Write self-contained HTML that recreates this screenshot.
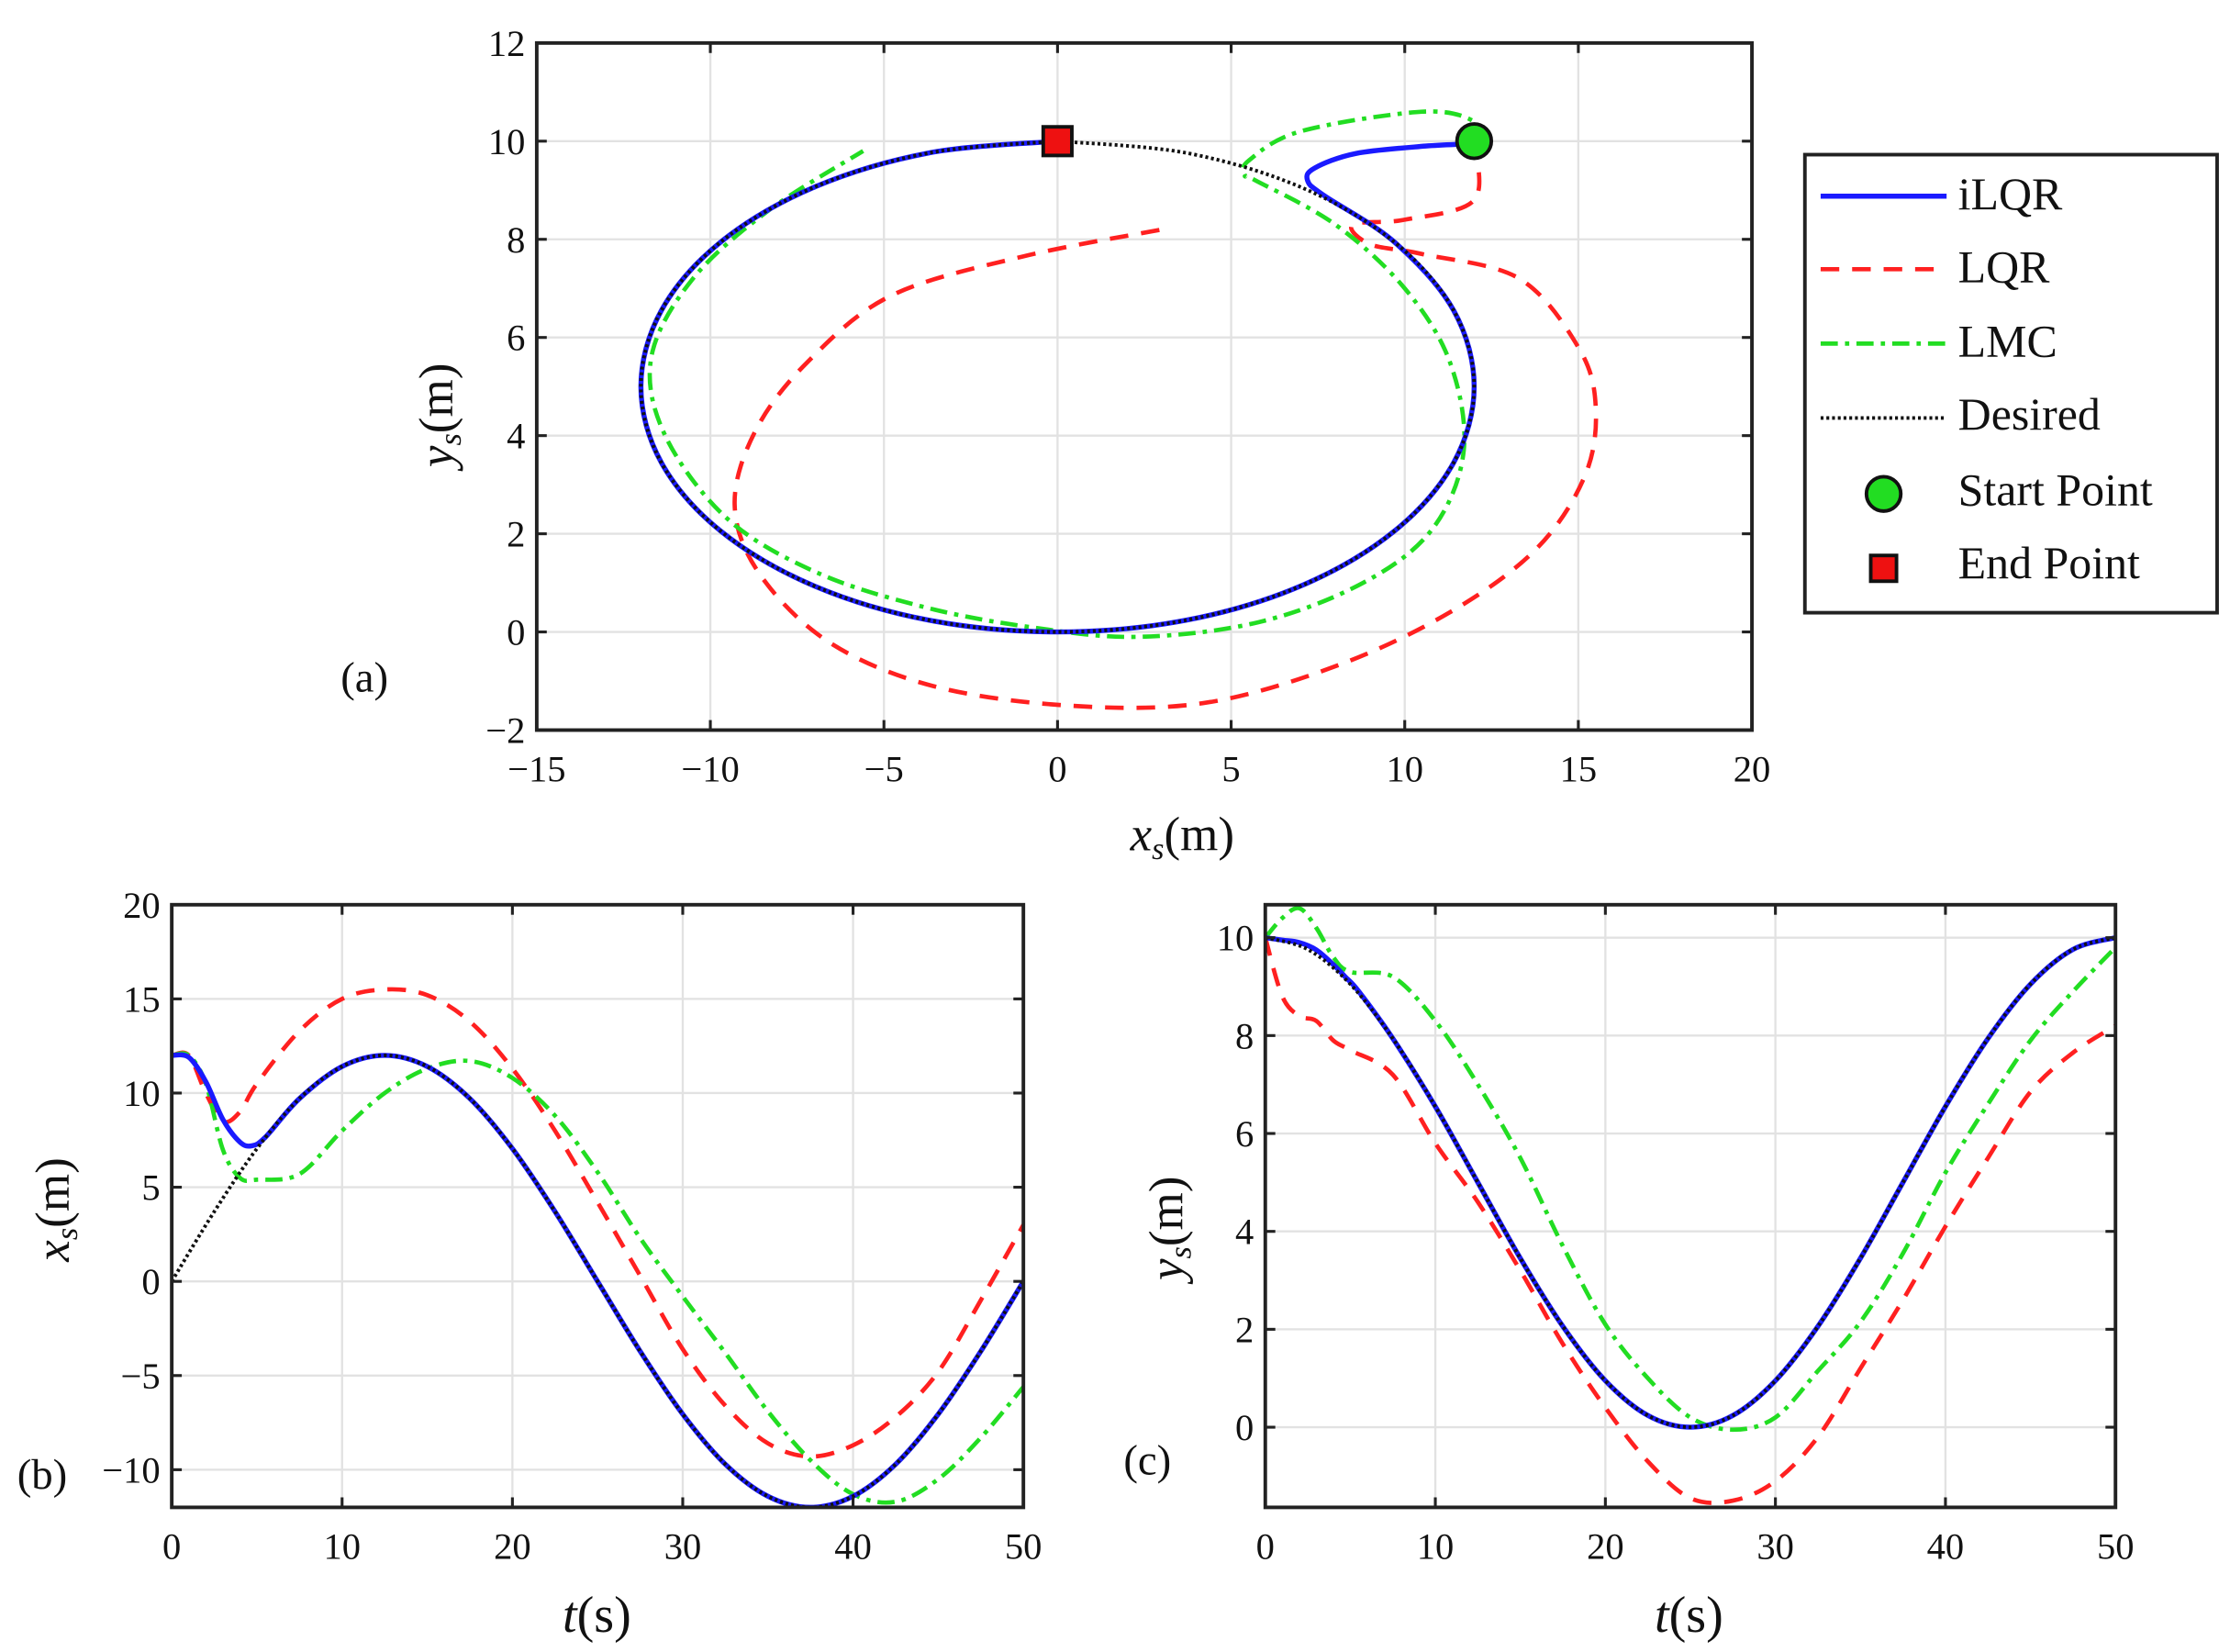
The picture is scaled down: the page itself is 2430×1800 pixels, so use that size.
<!DOCTYPE html>
<html><head><meta charset="utf-8"><style>
html,body{margin:0;padding:0;background:#fff}
svg{display:block}
text{font-family:"Liberation Serif",serif;fill:#111}
</style></head><body>
<svg id="fig" width="2430" height="1800" viewBox="0 0 1558 1154" xmlns="http://www.w3.org/2000/svg"></svg>
<script>
// ---- data ----
const tDes=[0,2.5,5,7.5,10,12.5,15,17.5,20,22.5,25,27.5,30,32.5,35,37.5,40,42.5,45,47.5,50];
const xDes=[0,3.71,7.05,9.71,11.41,12,11.41,9.71,7.05,3.71,0,-3.71,-7.05,-9.71,-11.41,-12,-11.41,-9.71,-7.05,-3.71,0];
const yDes=[10,9.76,9.05,7.94,6.55,5,3.45,2.06,0.95,0.24,0,0.24,0.95,2.06,3.45,5,6.55,7.94,9.05,9.76,10];
const tIlqr=[0,1,2,3,4,4.7,5.5,7.5,10,12.5,15,17.5,20,22.5,25,27.5,30,32.5,35,37.5,40,42.5,45,47.5,50];
const xIlqr=[12,11.9,10.6,8.6,7.4,7.2,7.66,9.71,11.41,12,11.41,9.71,7.05,3.71,0,-3.71,-7.05,-9.71,-11.41,-12,-11.41,-9.71,-7.05,-3.71,0];
const yIlqr=[10,9.95,9.9,9.75,9.45,9.2,8.9,7.94,6.55,5,3.45,2.06,0.95,0.24,0,0.24,0.95,2.06,3.45,5,6.55,7.94,9.05,9.76,10];
const tLqr=[0,1,2,3,4,5,7.5,10,12.5,15,17.5,20,22.5,25,27.5,30,32.5,35,37.5,40,42.5,45,47.5,50];
const xLqr=[12,12,10,8.5,9,10.5,13.3,15,15.5,15.2,13.8,11.3,8.0,4.2,0.3,-3.6,-6.6,-8.6,-9.3,-8.7,-7.2,-4.8,-1.0,3];
const yLqr=[10,8.8,8.4,8.3,7.9,7.7,7.2,5.8,4.6,3.2,1.7,0.4,-0.7,-1.45,-1.5,-1.1,-0.2,1.2,2.6,4.1,5.5,6.85,7.65,8.2];
const tLmc=[0,1,2,3,4,5,7.5,10,12.5,15,17.5,20,22.5,25,27.5,30,32.5,35,37.5,40,42.5,45,47.5,50];
const xLmc=[12,12,10.5,7,5.5,5.4,5.7,8,10,11.3,11.7,10.8,8.8,5.8,2.3,-0.8,-3.8,-6.9,-9.5,-11.3,-11.7,-10.5,-8.3,-5.6];
// LMC y as traced on the trajectory plot (a)
const yLmc=[10,10.4,10.6,10.2,9.6,9.3,9.2,8.3,7,5.5,3.7,2.1,1.0,0.2,-0.1,0.1,0.5,1.2,2.3,4.0,5.6,7.2,8.6,9.8];
// LMC y(t) (c)
const yLmcC=[10,10.4,10.6,10.2,9.6,9.3,9.2,8.3,7,5.5,3.7,2.1,1.0,0.2,-0.05,0.2,1.15,2.15,3.55,5.2,6.6,7.9,8.9,9.8];
const ticksAX=[-15,-10,-5,0,5,10,15,20];
const ticksAY=[-2,0,2,4,6,8,10,12];
const ticksT=[0,10,20,30,40,50];
const ticksBY=[-10,-5,0,5,10,15,20];
const ticksCY=[0,2,4,6,8,10];

const NS='http://www.w3.org/2000/svg';
const svg=document.getElementById('fig');
function el(tag,attrs,parent){const e=document.createElementNS(NS,tag);for(const k in attrs)e.setAttribute(k,attrs[k]);(parent||svg).appendChild(e);return e;}
function lin(d0,d1,p0,p1){return v=>p0+(v-d0)*(p1-p0)/(d1-d0);}
function fmt(v){return v<0?'\u2212'+(-v):''+v;}
function smoothPath(pts){
  let d='M'+pts[0][0].toFixed(2)+','+pts[0][1].toFixed(2);
  for(let i=0;i<pts.length-1;i++){
    const p0=pts[Math.max(0,i-1)],p1=pts[i],p2=pts[i+1],p3=pts[Math.min(pts.length-1,i+2)];
    const c1=[p1[0]+(p2[0]-p0[0])/6,p1[1]+(p2[1]-p0[1])/6];
    const c2=[p2[0]-(p3[0]-p1[0])/6,p2[1]-(p3[1]-p1[1])/6];
    d+='C'+c1[0].toFixed(2)+','+c1[1].toFixed(2)+' '+c2[0].toFixed(2)+','+c2[1].toFixed(2)+' '+p2[0].toFixed(2)+','+p2[1].toFixed(2);
  }
  return d;
}
const styles={
  lqr:{stroke:'#ff2020','stroke-width':3,'stroke-dasharray':'13,9'},
  lmc:{stroke:'#22dd22','stroke-width':3,'stroke-dasharray':'12,5,3,5'},
  ilqr:{stroke:'#1a1aff','stroke-width':3.5},
  des:{stroke:'#111','stroke-width':2.5,'stroke-dasharray':'2,2'}
};
function axesBox(g,x0,y0,x1,y1,xs,ys,xt,yt){
  xt.forEach(v=>{const gl=el('line',{x1:xs(v),x2:xs(v),y1:y0,y2:y1,stroke:'#e2e2e2','stroke-width':1.5},g);
    });
  yt.forEach(v=>{const gl=el('line',{x1:x0,x2:x1,y1:ys(v),y2:ys(v),stroke:'#e2e2e2','stroke-width':1.5},g);
    });
}
function axesFrame(g,x0,y0,x1,y1,xs,ys,xt,yt){
  const r=el('rect',{x:x0,y:y0,width:x1-x0,height:y1-y0,fill:'none',stroke:'#222','stroke-width':2.5},g);
  
  xt.forEach(v=>{el('line',{x1:xs(v),x2:xs(v),y1:y1,y2:y1-7,stroke:'#222','stroke-width':2},g);el('line',{x1:xs(v),x2:xs(v),y1:y0,y2:y0+7,stroke:'#222','stroke-width':2},g);
    const t=el('text',{x:xs(v),y:y1+36,'text-anchor':'middle','font-size':26},g);t.textContent=fmt(v);
    });
  yt.forEach(v=>{el('line',{x1:x0,x2:x0+7,y1:ys(v),y2:ys(v),stroke:'#222','stroke-width':2},g);el('line',{x1:x1,x2:x1-7,y1:ys(v),y2:ys(v),stroke:'#222','stroke-width':2},g);
    const t=el('text',{x:x0-8,y:ys(v)+9,'text-anchor':'end','font-size':26},g);t.textContent=fmt(v);
    });
}
function series(g,pts,st,name,clip){
  const a=Object.assign({d:smoothPath(pts),fill:'none','stroke-linejoin':'round'},st);
  if(clip)a['clip-path']='url(#'+clip+')';
  const p=el('path',a,g);
}
const defs=el('defs',{});
function clipRect(id,x0,y0,x1,y1){const c=el('clipPath',{id:id},defs);el('rect',{x:x0,y:y0,width:x1-x0,height:y1-y0},c);}

// ---- panel (a) ----
{
const g=el('g',{});
const X0=375,X1=1224,Y0=30,Y1=510;
const xs=lin(-15,20,X0,X1), ys=lin(-2,12,Y1,Y0);
clipRect('ca',X0,Y0,X1,Y1);
axesBox(g,X0,Y0,X1,Y1,xs,ys,ticksAX,ticksAY);
series(g,xLqr.map((v,i)=>[xs(v),ys(yLqr[i])]),styles.lqr,'lqr-path','ca');
series(g,xLmc.map((v,i)=>[xs(v),ys(yLmc[i])]),styles.lmc,'lmc-path','ca');
series(g,xIlqr.map((v,i)=>[xs(v),ys(yIlqr[i])]),styles.ilqr,'ilqr-path','ca');
series(g,xDes.map((v,i)=>[xs(v),ys(yDes[i])]),styles.des,'desired-path','ca');
const sp=el('circle',{cx:xs(xIlqr[0]),cy:ys(yIlqr[0]),r:12,fill:'#22dd22',stroke:'#111','stroke-width':2.5},g);

const ep=el('rect',{x:xs(xDes[xDes.length-1])-10,y:ys(yDes[yDes.length-1])-10,width:20,height:20,fill:'#ee1111',stroke:'#111','stroke-width':2.5},g);

axesFrame(g,X0,Y0,X1,Y1,xs,ys,ticksAX,ticksAY);
}
// ---- panel (b) ----
{
const g=el('g',{});
const X0=120,X1=715,Y0=632,Y1=1053;
const xs=lin(0,50,X0,X1), ys=lin(-12,20,Y1,Y0);
clipRect('cb',X0,Y0,X1,Y1);
axesBox(g,X0,Y0,X1,Y1,xs,ys,ticksT,ticksBY);
series(g,tLqr.map((t,i)=>[xs(t),ys(xLqr[i])]),styles.lqr,'lqr-x-line','cb');
series(g,tLmc.map((t,i)=>[xs(t),ys(xLmc[i])]),styles.lmc,'lmc-x-line','cb');
series(g,tIlqr.map((t,i)=>[xs(t),ys(xIlqr[i])]),styles.ilqr,'ilqr-x-line','cb');
series(g,tDes.map((t,i)=>[xs(t),ys(xDes[i])]),styles.des,'desired-x-line','cb');
axesFrame(g,X0,Y0,X1,Y1,xs,ys,ticksT,ticksBY);
}
// ---- panel (c) ----
{
const g=el('g',{});
const X0=884,X1=1478,Y0=632,Y1=1053;
const xs=lin(0,50,X0,X1), ys=lin(0,10,997,655);
clipRect('cc',X0,Y0,X1,Y1);
axesBox(g,X0,Y0,X1,Y1,xs,ys,ticksT,ticksCY);
series(g,tLqr.map((t,i)=>[xs(t),ys(yLqr[i])]),styles.lqr,'lqr-y-line','cc');
series(g,tLmc.map((t,i)=>[xs(t),ys(yLmcC[i])]),styles.lmc,'lmc-y-line','cc');
series(g,tIlqr.map((t,i)=>[xs(t),ys(yIlqr[i])]),styles.ilqr,'ilqr-y-line','cc');
series(g,tDes.map((t,i)=>[xs(t),ys(yDes[i])]),styles.des,'desired-y-line','cc');
axesFrame(g,X0,Y0,X1,Y1,xs,ys,ticksT,ticksCY);
}
</script>
<script>
// static labels & legend
(function(){
const NS='http://www.w3.org/2000/svg',svg=document.getElementById('fig');
function add(html){const g=document.createElementNS(NS,'g');g.innerHTML=html;svg.appendChild(g);}
add(`
<text x="238" y="483" font-size="30">(a)</text>
<text x="12" y="1040" font-size="30">(b)</text>
<text x="785" y="1030" font-size="30">(c)</text>
<text x="826" y="594" font-size="34" text-anchor="middle"><tspan font-style="italic">x</tspan><tspan font-style="italic" font-size="22" dy="6">s</tspan><tspan dy="-6">(m)</tspan></text>
<text transform="translate(316,290) rotate(-90)" font-size="34" text-anchor="middle"><tspan font-style="italic">y</tspan><tspan font-style="italic" font-size="22" dy="6">s</tspan><tspan dy="-6">(m)</tspan></text>
<text transform="translate(48,845) rotate(-90)" font-size="34" text-anchor="middle"><tspan font-style="italic">x</tspan><tspan font-style="italic" font-size="22" dy="6">s</tspan><tspan dy="-6">(m)</tspan></text>
<text transform="translate(826,858) rotate(-90)" font-size="34" text-anchor="middle"><tspan font-style="italic">y</tspan><tspan font-style="italic" font-size="22" dy="6">s</tspan><tspan dy="-6">(m)</tspan></text>
<text x="417" y="1140" font-size="36" text-anchor="middle"><tspan font-style="italic">t</tspan>(s)</text>
<text x="1180" y="1140" font-size="36" text-anchor="middle"><tspan font-style="italic">t</tspan>(s)</text>
<g>
<rect x="1261" y="108" width="288" height="320" fill="#fff" stroke="#222" stroke-width="2.5"/>
<g><line x1="1272" x2="1360" y1="137" y2="137" stroke="#1a1aff" stroke-width="3.5"/><text x="1368" y="146" font-size="32">iLQR</text></g>
<g><line x1="1272" x2="1360" y1="188" y2="188" stroke="#ff2020" stroke-width="3" stroke-dasharray="13,9"/><text x="1368" y="197" font-size="32">LQR</text></g>
<g><line x1="1272" x2="1360" y1="240" y2="240" stroke="#22dd22" stroke-width="3" stroke-dasharray="12,5,3,5"/><text x="1368" y="249" font-size="32">LMC</text></g>
<g><line x1="1272" x2="1360" y1="292" y2="292" stroke="#111" stroke-width="2.5" stroke-dasharray="2,2"/><text x="1368" y="300" font-size="32">Desired</text></g>
<g><circle cx="1316" cy="345" r="12" fill="#22dd22" stroke="#111" stroke-width="2.5"/><text x="1368" y="353" font-size="32">Start Point</text></g>
<g><rect x="1307" y="388" width="18" height="18" fill="#ee1111" stroke="#111" stroke-width="2.5"/><text x="1368" y="404" font-size="32">End Point</text></g>
</g>`);
})();
</script>
</body></html>
